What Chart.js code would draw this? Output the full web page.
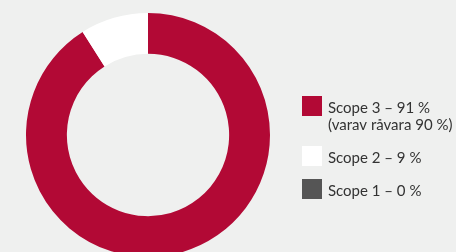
<!DOCTYPE html>
<html>
<head>
<meta charset="utf-8">
<script src="https://cdn.jsdelivr.net/npm/chart.js@4"></script>
<style>
	html, body { margin: 0; padding: 0; background: #eff0ef; }
	#wrap { width: 456px; height: 252px; overflow: hidden; position: relative; }
	#box { width: 456px; height: 280px; position: absolute; left: 0; top: 0; }
</style>
</head>
<body>
<div id="wrap"><div id="box"><canvas id="chart" width="456" height="280"></canvas></div></div>
<script>
const labels = ['Scope 3 – 91 %', 'Scope 2 – 9 %', 'Scope 1 – 0 %'];
const subLabels = ['(varav råvara 90 %)', '', ''];
const values = [91, 9, 0];
const colors = ['#b20935', '#ffffff', '#555555'];

const legendPlugin = {
	id: 'sideLegend',
	afterDraw(chart) {
		const { ctx } = chart;
		const rows = [96, 146, 179];
		ctx.save();
		ctx.textBaseline = 'alphabetic';
		ctx.font = '15px Lato, sans-serif';
		labels.forEach((label, i) => {
			ctx.fillStyle = colors[i];
			ctx.fillRect(302, rows[i], 20, 20);
			ctx.fillStyle = '#333333';
			ctx.fillText(label, 328, rows[i] + 17);
			if (subLabels[i]) {
				ctx.fillText(subLabels[i], 328, rows[i] + 34);
			}
		});
		ctx.restore();
	}
};

new Chart(document.getElementById('chart').getContext('2d'), {
	type: 'doughnut',
	data: {
		labels: labels,
		datasets: [{
			data: values,
			backgroundColor: colors,
			borderWidth: 0
		}]
	},
	options: {
		responsive: false,
		animation: false,
		cutout: '66.5%',
		layout: {
			padding: { left: 26, right: 186, top: 13, bottom: 23 }
		},
		plugins: {
			legend: { display: false },
			tooltip: { enabled: false }
		}
	},
	plugins: [legendPlugin]
});
</script>
</body>
</html>
